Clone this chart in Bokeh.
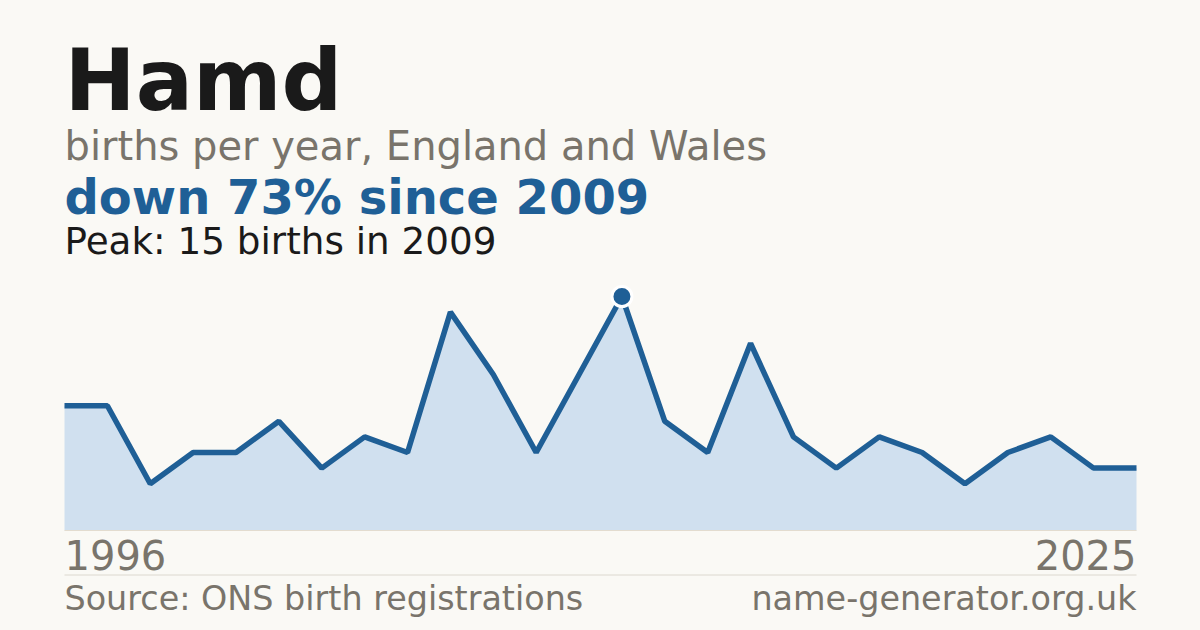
from bokeh.plotting import figure
from bokeh.models import Range1d, Label
from bokeh.embed import file_html
from bokeh.resources import INLINE

# ---------------- data ----------------
name = "Hamd"
subtitle = "births per year, England and Wales"
headline = "down 73% since 2009"
peak_note = "Peak: 15 births in 2009"
source_note = "Source: ONS birth registrations"
site_note = "name-generator.org.uk"
year_labels = ["1996", "2025"]
births = [8, 8, 3, 5, 5, 7, 4, 6, 5, 14, 10, 5, 10, 15, 7, 5, 12, 6, 4, 6, 5, 3, 5, 6, 4, 4]
peak_index = 13

# ---------------- style ----------------
BG = "#faf9f5"
BLUE = "#1f5f96"
FILL = "#d0e0ef"
DARK = "#1a1a1a"
GREY = "#79746b"
FONT = "DejaVu Sans"

# ---------------- layout (page pixels) ----------------
W, H = 1200, 630
LEFT, RIGHT = 64, 1136
BASE = 530
PEAK_Y = 296
BASELINE_SHIFT = 0.38  # empirical correction of Bokeh's alphabetic baseline

xs = list(range(len(births)))
step = (RIGHT - LEFT) / (len(births) - 1)
k = (BASE - PEAK_Y) / max(births)


def px(page_x):
    return (page_x - LEFT) / step


def py(page_y):
    return (BASE - page_y) / k


p = figure(
    width=W, height=H,
    x_range=Range1d(px(0), px(W)),
    y_range=Range1d(py(H), py(0)),
    x_axis_type=None, y_axis_type=None,
    toolbar_location=None, output_backend="svg",
    min_border=0,
    background_fill_color=BG, border_fill_color=BG,
    outline_line_color=None,
)
p.grid.visible = False

# area + baseline
p.varea(x=xs, y1=[0] * len(xs), y2=births, fill_color=FILL)
p.line([xs[0], xs[-1]], [0, 0], line_color="#e3dccf", line_width=1)
p.line(xs, births, line_color=BLUE, line_width=5.5)
p.scatter([xs[peak_index]], [births[peak_index]], size=20,
          fill_color=BLUE, line_color="white", line_width=3)

# separator
p.line([xs[0], xs[-1]], [py(574.5), py(574.5)], line_color="#dcd8cf", line_width=1)


def lab(text, page_x, page_y, size, color, bold=False, align="left"):
    p.add_layout(Label(
        x=px(page_x), y=py(page_y - BASELINE_SHIFT * size), text=text,
        text_font=FONT, text_font_size=f"{size}px",
        text_font_style="bold" if bold else "normal",
        text_color=color, text_align=align, text_baseline="alphabetic",
    ))


lab(name, LEFT, 112, 85, DARK, bold=True)
lab(subtitle, LEFT, 161, 40, GREY)
lab(headline, LEFT, 215, 48, BLUE, bold=True)
lab(peak_note, LEFT, 255, 37.3, DARK)
lab(year_labels[0], LEFT, 570, 40, GREY)
lab(year_labels[-1], RIGHT, 570, 40, GREY, align="right")
lab(source_note, LEFT, 611, 33.4, GREY)
lab(site_note, RIGHT, 611, 33.4, GREY, align="right")

html = file_html(p, INLINE)
html = html.replace("<head>", "<head><style>html,body{background:%s;}</style>" % BG, 1)
open("out.html", "w").write(html)
